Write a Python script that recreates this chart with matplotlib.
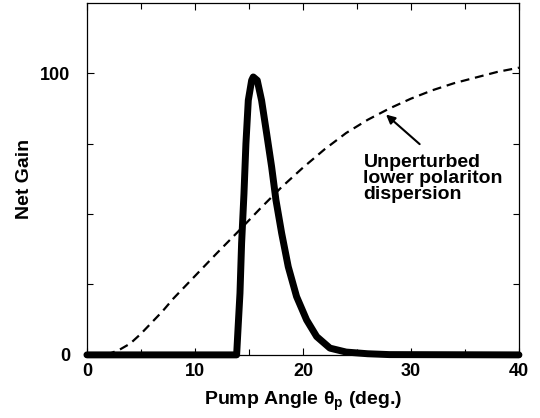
import numpy as np
import matplotlib.pyplot as plt

plt.rcParams['font.family'] = ['Liberation Sans', 'DejaVu Sans']
plt.rcParams['font.weight'] = 'bold'
plt.rcParams['mathtext.fontset'] = 'custom'
plt.rcParams['mathtext.bf'] = 'Liberation Sans:bold'
plt.rcParams['mathtext.rm'] = 'Liberation Sans:bold'

# Net gain vs pump angle (solid, thick)
gain_angle = [0, 13.86, 14.0, 14.17, 14.32, 14.54, 14.72, 14.94, 15.25, 15.4,
              15.77, 16.17, 16.64, 17.10, 17.50, 18.03, 18.64, 19.41, 20.34,
              21.27, 22.5, 24, 26, 28, 40]
gain = [0, 0, 10, 21.9, 39.6, 57.3, 75, 90.4, 97.5, 98.7,
        97.5, 90.4, 78.6, 66.8, 55.0, 43.2, 31.3, 20.7, 12.4,
        6.5, 2.4, 1.0, 0.4, 0.1, 0]

# Unperturbed lower polariton dispersion (dashed)
disp_angle = [1.8, 3, 4, 5, 6, 7, 8, 10, 12, 14, 16, 18, 20, 22, 24, 26, 28,
              30, 32, 34, 36, 38, 40]
disp = [0, 1.8, 4, 7.5, 11.5, 15.5, 20, 28, 36, 43.8, 51.8, 59.5, 66.5, 73,
        78.8, 83.5, 87.5, 91, 94, 96.5, 98.5, 100.5, 102]

fig = plt.figure(figsize=(5.4, 4.18), dpi=100)
ax = fig.add_axes([0.161, 0.151, 0.800, 0.842])

ax.plot(disp_angle, disp, color='black', lw=1.6, linestyle=(0, (4, 2.6)))
ax.plot(gain_angle, gain, color='black', lw=5, solid_joinstyle='round',
        solid_capstyle='round', clip_on=False)

ax.set_xlim(0, 40)
ax.set_ylim(0, 125)
ax.set_xticks([0, 10, 20, 30, 40])
ax.set_xticks([5, 15, 25, 35], minor=True)
ax.set_yticks([0, 100])
ax.set_yticks([25, 50, 75], minor=True)
ax.tick_params(which='both', direction='in', top=True, right=True,
               labelsize=13, width=0.8)
ax.tick_params(which='major', length=5, pad=6)
ax.tick_params(which='minor', length=4)
ax.tick_params(axis='y', pad=12)
for s in ax.spines.values():
    s.set_linewidth(0.9)

ax.set_xlabel('Pump Angle θ$_{\\mathbf{p}}$ (deg.)', fontsize=14,
              fontweight='bold', labelpad=7)
ax.set_ylabel('Net Gain', fontsize=14, fontweight='bold', labelpad=5)

ax.annotate('', xy=(27.5, 86), xytext=(31.0, 74.2),
            arrowprops=dict(arrowstyle='-|>', color='black', lw=1.5,
                            mutation_scale=13))
ax.text(25.6, 71.5, 'Unperturbed\nlower polariton\ndispersion', fontsize=14,
        fontweight='bold', va='top', ha='left', linespacing=0.95)

fig.savefig('out.png', dpi=100)
